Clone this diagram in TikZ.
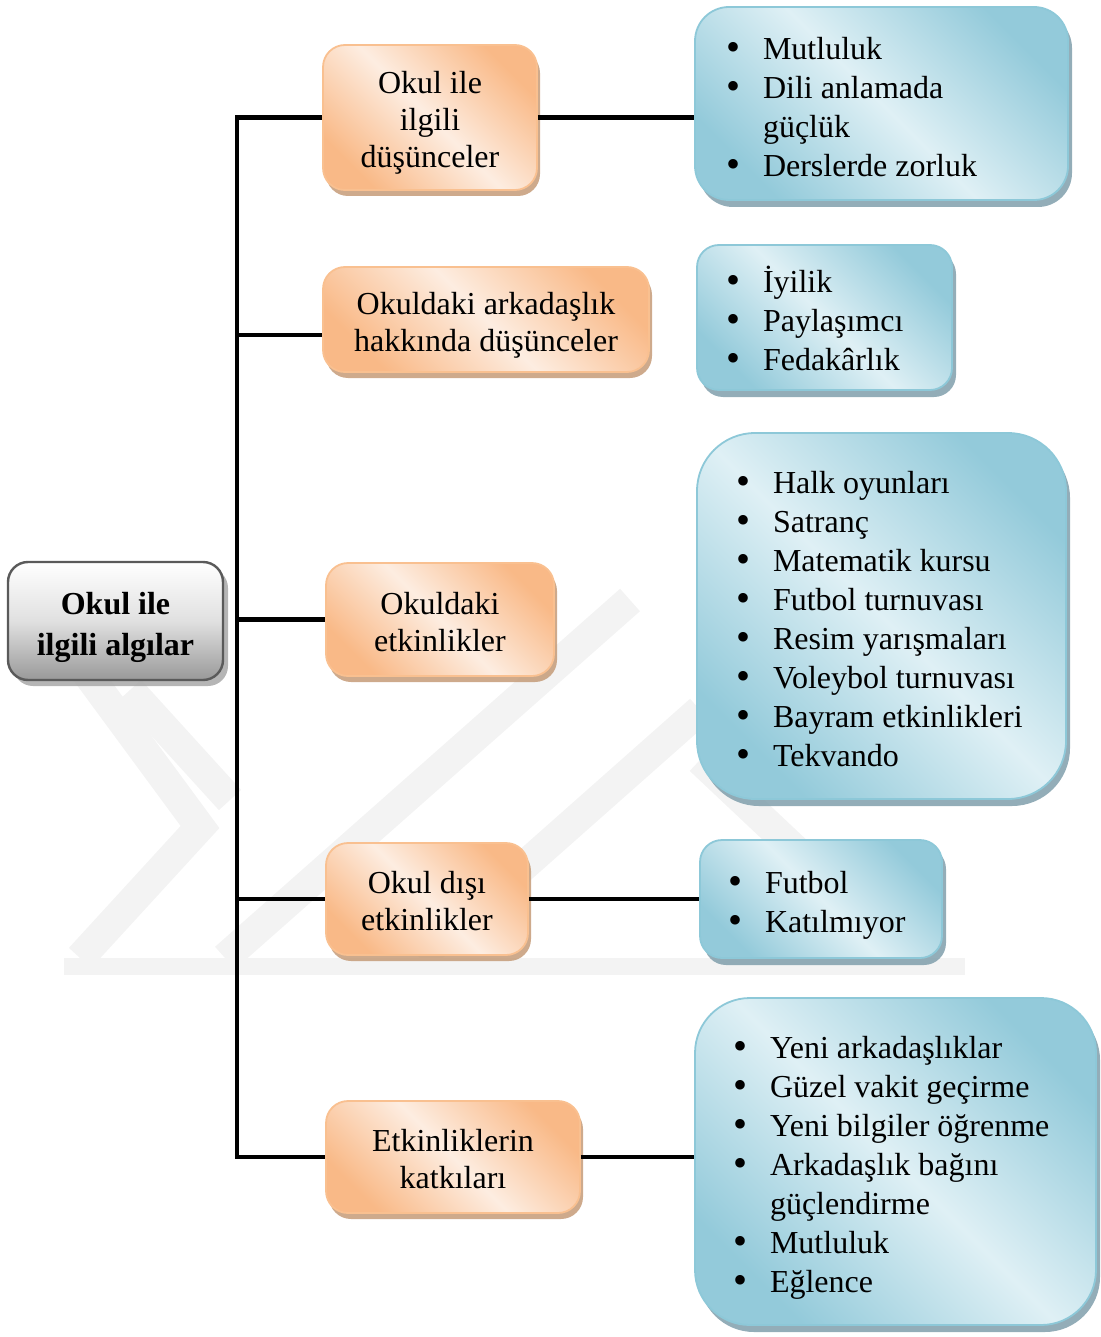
\documentclass[tikz,border=0pt]{standalone}
\usepackage{fontspec}
\setmainfont{Liberation Serif}
\usetikzlibrary{shadows,calc}
\definecolor{orA}{HTML}{F9B987}
\definecolor{orB}{HTML}{FDEDE1}
\definecolor{orLine}{HTML}{F9C090}
\definecolor{orShadow}{HTML}{C59B78}
\definecolor{blA}{HTML}{93CADA}
\definecolor{blB}{HTML}{DFF0F5}
\definecolor{blLine}{HTML}{8DC8D8}
\definecolor{blShadow}{HTML}{809FAC}
\definecolor{grLine}{HTML}{5A5A5A}
\definecolor{grShadow}{HTML}{A8A8A8}
\definecolor{wm}{HTML}{F3F3F3}
\newcommand\bl[1]{\strut\makebox[37pt][l]{\raisebox{-1pt}{\fontsize{40}{39}\selectfont\textbullet}}\mbox{#1}}
\newcommand\cl[1]{\strut\hspace*{37pt}\mbox{#1}}
\tikzset{
  orbox/.style={draw=orLine, line width=1.8pt, rounded corners=22pt,
    top color=orA, bottom color=orA, middle color=orB, shading angle=-45,
    align=flush center, inner ysep=0pt, inner xsep=10pt, font=\fontsize{32}{37}\selectfont,
    execute at begin node=\rule{0pt}{38pt}, execute at end node=\strut,
    drop shadow={shadow xshift=3pt, shadow yshift=-6pt, fill=orShadow, opacity=0.85}},
  blbox/.style={draw=blLine, line width=1.8pt,
    top color=blA, bottom color=blA, middle color=blB, shading angle=-45,
    align=flush left, inner ysep=0pt, font=\fontsize{32}{39}\selectfont,
    execute at begin node=\rule{0pt}{40pt},
    drop shadow={shadow xshift=4pt, shadow yshift=-7pt, fill=blShadow, opacity=0.85}},
  rootbox/.style={draw=grLine, line width=2.4pt, rounded corners=20pt,
    top color=white, bottom color=black!40, middle color=black!12,
    align=flush center, inner ysep=0pt, inner xsep=10pt, font=\bfseries\fontsize{32}{41}\selectfont,
    execute at begin node=\rule{0pt}{41pt}, execute at end node=\strut,
    drop shadow={shadow xshift=5pt, shadow yshift=-6pt, fill=grShadow, opacity=0.85}},
  conn/.style={line width=4.5pt, black, line join=miter},
  wmband/.style={wm, line width=30pt, line join=miter}
}
\begin{document}
\begin{tikzpicture}[x=1pt, y=-1pt]
\useasboundingbox (0,0) rectangle (1100,1337);
% watermark
\fill[wm] (64,958) rectangle (965,975);
\draw[wmband] (55,630) -- (200,827) -- (80,958);
\draw[wmband] (130,690) -- (230,800);
\draw[wmband] (225,958) -- (630,600);
\draw[wmband] (420,958) -- (700,710);
\draw[wmband] (700,760) -- (910,958);
% root
\node[rootbox, text width=195pt, minimum height=118pt] (root) at (115.5,621) {Okul ile\\ilgili algılar};
% middle boxes
\node[orbox, text width=194pt, minimum height=145pt] (O1) at (430,117.5) {Okul ile\\ilgili\\düşünceler};
\node[orbox, text width=306pt, minimum height=105pt] (O2) at (486,319.5) {Okuldaki arkadaşlık\\hakkında düşünceler};
\node[orbox, text width=208pt, minimum height=113pt] (O3) at (440,619.5) {Okuldaki\\etkinlikler};
\node[orbox, text width=182pt, minimum height=112pt] (O4) at (427,899) {Okul dışı\\etkinlikler};
\node[orbox, text width=234pt, minimum height=112pt] (O5) at (453,1157) {Etkinliklerin\\katkıları};
% right boxes
\node[blbox, rounded corners=34pt, minimum height=193pt, inner xsep=31pt, text width=311pt] (B1) at (881.5,103.5)
  {\bl{Mutluluk}\\\bl{Dili anlamada}\\\cl{güçlük}\\\bl{Derslerde zorluk}};
\node[blbox, rounded corners=22pt, minimum height=145pt, inner xsep=29pt, text width=197pt] (B2) at (824.5,317.5)
  {\bl{İyilik}\\\bl{Paylaşımcı}\\\bl{Fedakârlık}};
\node[blbox, rounded corners=58pt, minimum height=366pt, inner xsep=39pt, text width=291pt] (B3) at (881.5,616)
  {\bl{Halk oyunları}\\\bl{Satranç}\\\bl{Matematik kursu}\\\bl{Futbol turnuvası}\\\bl{Resim yarışmaları}\\\bl{Voleybol turnuvası}\\\bl{Bayram etkinlikleri}\\\bl{Tekvando}};
\node[blbox, rounded corners=22pt, minimum height=118pt, inner xsep=28pt, text width=186pt] (B4) at (821,899)
  {\bl{Futbol}\\\bl{Katılmıyor}};
\node[blbox, rounded corners=55pt, minimum height=327pt, inner xsep=38pt, text width=325pt] (B5) at (895.5,1161.5)
  {\bl{Yeni arkadaşlıklar}\\\bl{Güzel vakit geçirme}\\\bl{Yeni bilgiler öğrenme}\\\bl{Arkadaşlık bağını}\\\cl{güçlendirme}\\\bl{Mutluluk}\\\bl{Eğlence}};
% connectors
\coordinate (tx) at (237,0);
\coordinate (j2) at (237,335);
\draw[conn] (O1.west) -- (O1.west -| tx) -- (O5.west -| tx) -- (O5.west);
\draw[conn] (j2) -- (j2 -| O2.west);
\draw[conn] (O3.west -| tx) -- (O3.west);
\draw[conn] (O4.west -| tx) -- (O4.west);
\draw[conn] (O1.east) -- (O1.east -| B1.west);
\draw[conn] ($(O2.east)+(0,2.5)$) -- ($(O2.east)+(0,2.5)$ -| B2.west);
\draw[conn] ($(O3.east)+(0,-2.5)$) -- ($(O3.east)+(0,-2.5)$ -| B3.west);
\draw[conn] (O4.east) -- (O4.east -| B4.west);
\draw[conn] (O5.east) -- (O5.east -| B5.west);
\end{tikzpicture}
\end{document}
